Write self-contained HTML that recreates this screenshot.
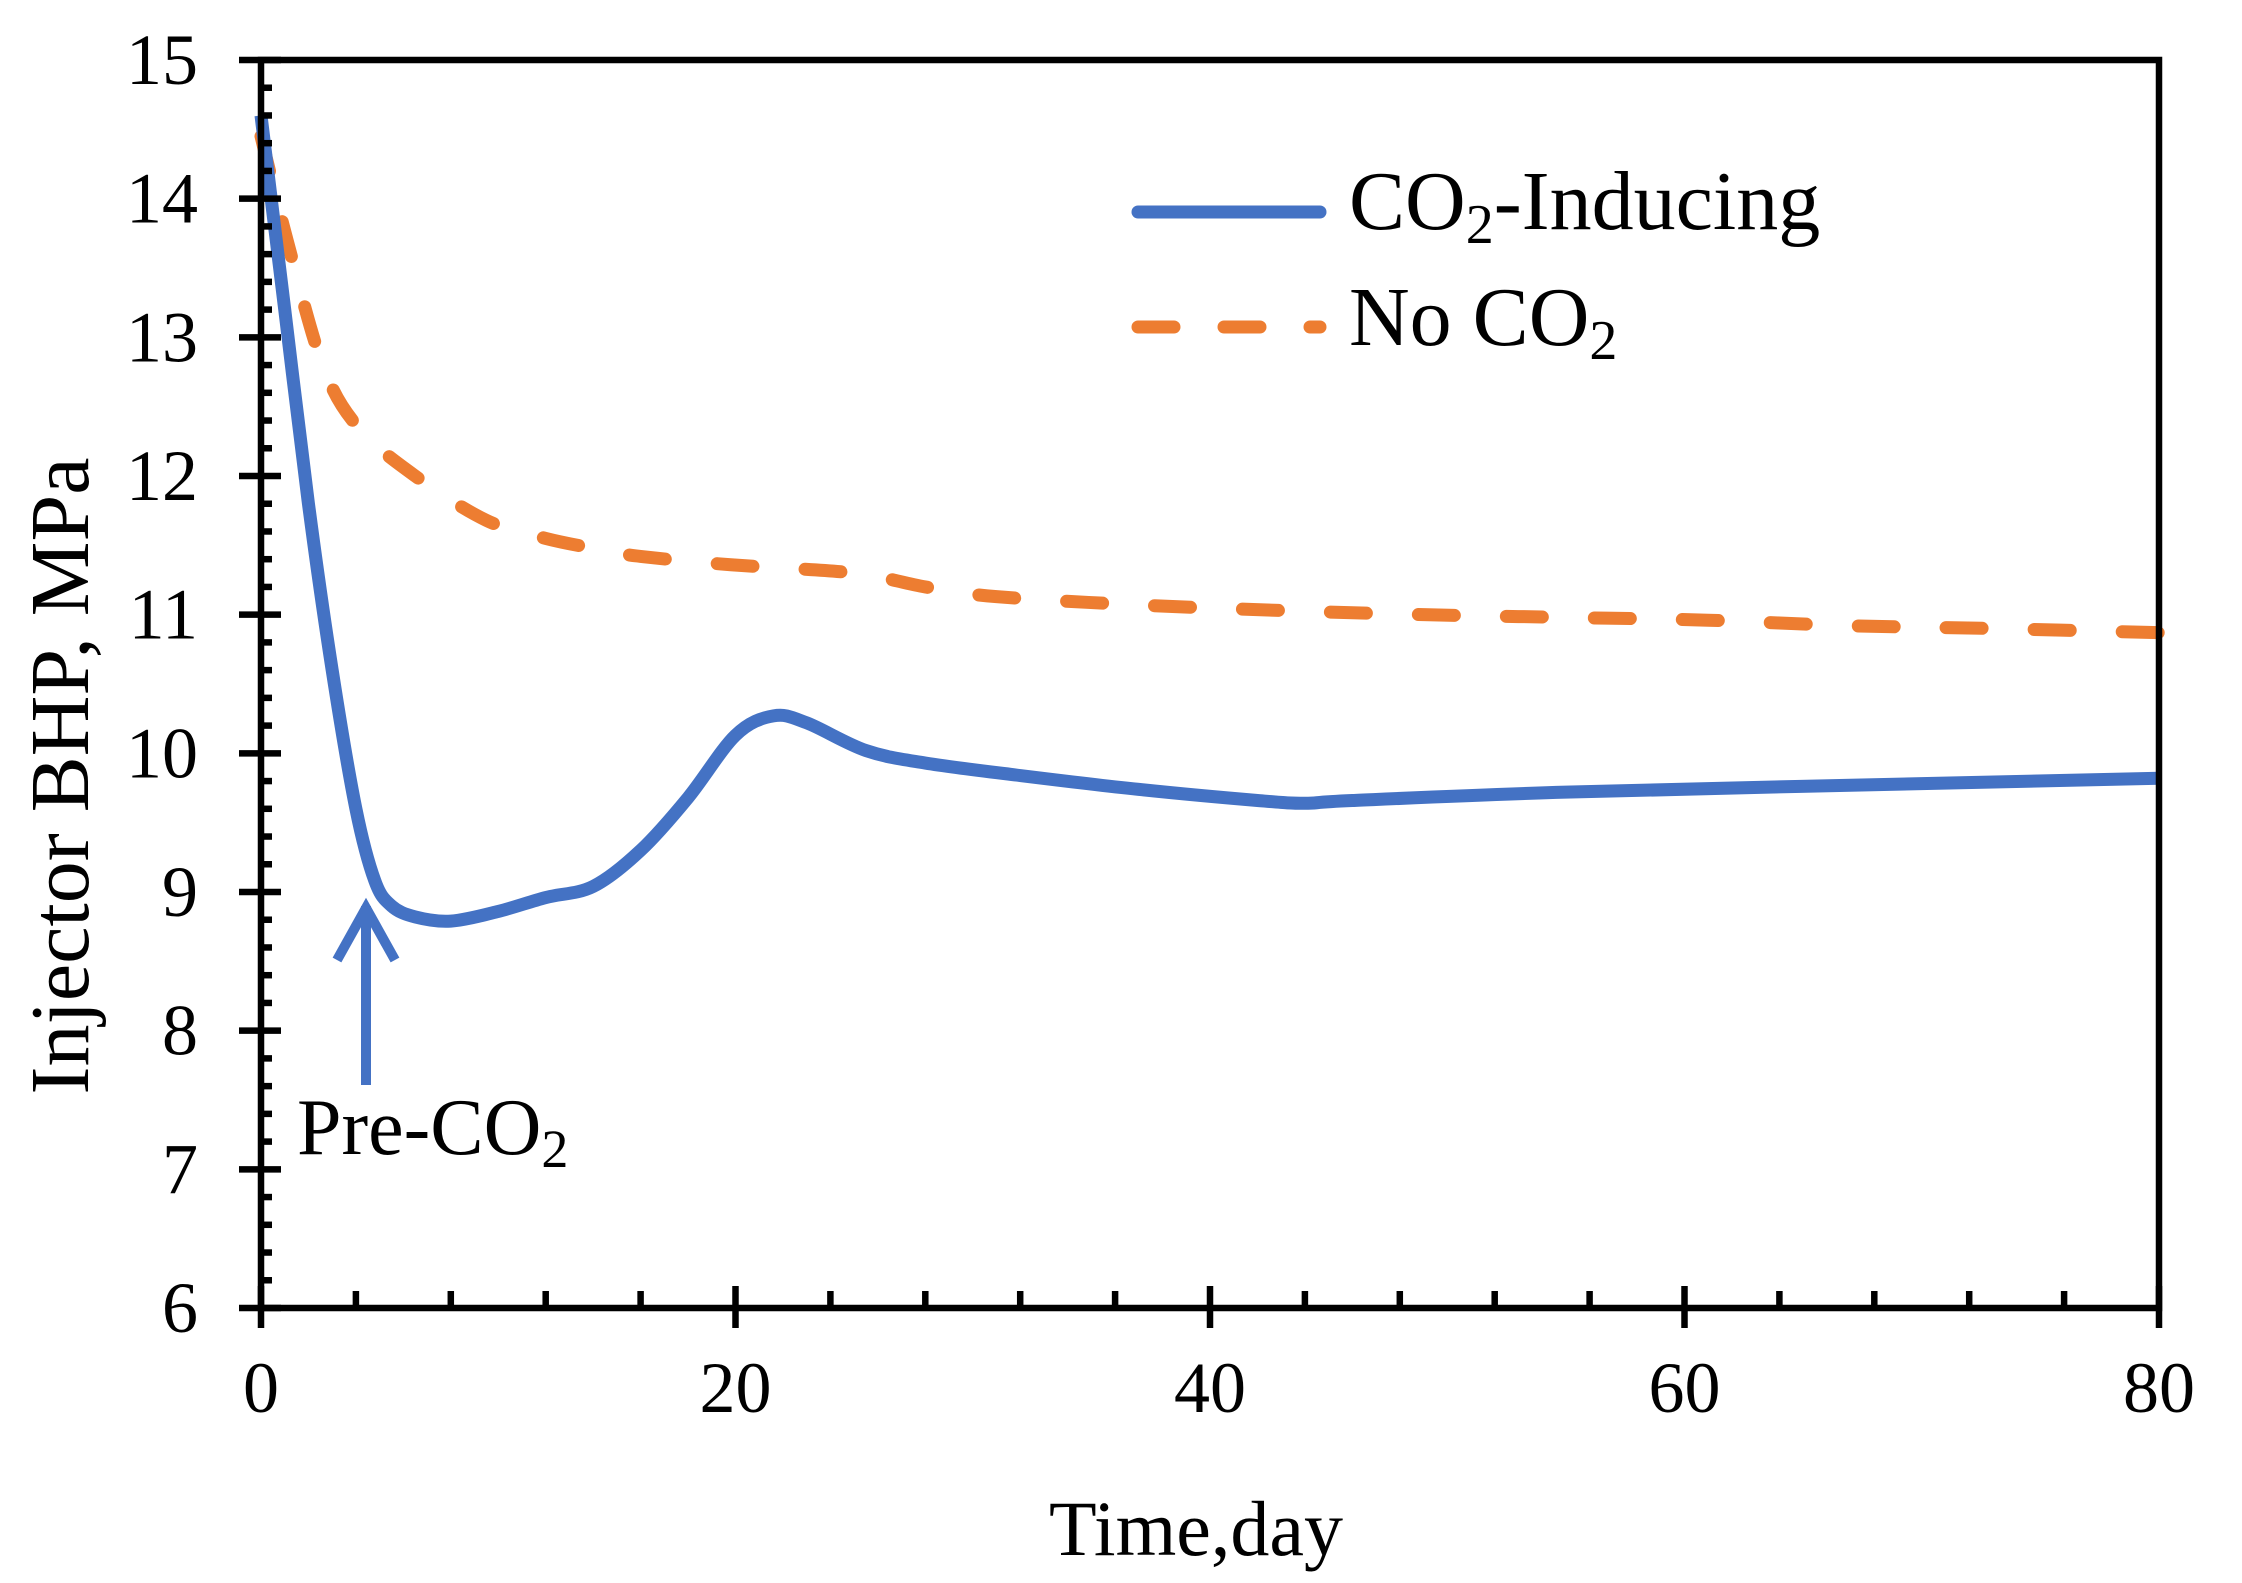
<!DOCTYPE html>
<html><head><meta charset="utf-8"><style>
html,body{margin:0;padding:0;background:#fff;}
svg{display:block;font-family:"Liberation Serif","Times New Roman",serif;}
</style></head><body>
<svg id="chart" width="2242" height="1583" viewBox="0 0 2242 1583" xmlns="http://www.w3.org/2000/svg">
<g id="grid"></g>
<g id="series"></g>
<g id="axes"></g>
<g>
  <line x1="1138" y1="212" x2="1320" y2="212" stroke="#4472C4" stroke-width="13" stroke-linecap="round"/>
  <text x="1349" y="229" font-size="84">CO<tspan font-size="56" dy="14">2</tspan><tspan dy="-14">-Inducing</tspan></text>
  <line x1="1138" y1="327" x2="1320" y2="327" stroke="#ED7D31" stroke-width="13" stroke-linecap="round" stroke-dasharray="36 50"/>
  <text x="1349" y="345" font-size="84">No CO<tspan font-size="56" dy="14">2</tspan></text>
</g>
<g>
  <line x1="366" y1="1085" x2="366" y2="906" stroke="#4472C4" stroke-width="10"/>
  <polyline points="337,960 366,908 395,960" fill="none" stroke="#4472C4" stroke-width="10"/>
  <text x="297" y="1154" font-size="80">Pre-CO<tspan font-size="54" dy="13">2</tspan></text>
</g>
<text x="1196" y="1555" font-size="78" text-anchor="middle">Time,day</text>
<text transform="translate(88,776) rotate(-90)" font-size="84" text-anchor="middle">Injector BHP, MPa</text>
</svg>
<script>
const xTicks=[0,20,40,60,80];
const yTicks=[6,7,8,9,10,11,12,13,14,15];
const blueDays=[0,1,2,3,4,4.8,5.5,6.5,8,10,12,14,16,18,20,21.6,23,25.5,28,32,37,42,44,46,55,67,80];
const blueVals=[14.6,13.2,11.8,10.6,9.6,9.08,8.9,8.82,8.79,8.86,8.96,9.04,9.3,9.68,10.13,10.27,10.22,10.02,9.93,9.84,9.74,9.66,9.64,9.66,9.72,9.77,9.82];
const orangeDays=[0,1.1,2.6,4.1,6.5,9.5,12,14.3,16,19.8,25,28,31,37,43,49,55,61,67,73,80];
const orangeVals=[14.45,13.7,12.8,12.35,12.0,11.68,11.55,11.47,11.42,11.36,11.3,11.2,11.13,11.07,11.03,11.0,10.98,10.96,10.92,10.9,10.87];

const X0=261,X1=2159,Y0=1308,Y1=60;
const xs=d=>X0+(d-0)/(80-0)*(X1-X0);
const ys=v=>Y0-(v-6)/(15-6)*(Y0-Y1);
const NS="http://www.w3.org/2000/svg";
function mk(tag,attrs,parent){const e=document.createElementNS(NS,tag);for(const k in attrs)e.setAttribute(k,attrs[k]);parent.appendChild(e);return e;}
function smooth(px){let d=`M${px[0][0]},${px[0][1]}`;for(let i=0;i<px.length-1;i++){const p0=px[i-1]||px[i],p1=px[i],p2=px[i+1],p3=px[i+2]||p2;
 d+=` C${p1[0]+(p2[0]-p0[0])/6},${p1[1]+(p2[1]-p0[1])/6} ${p2[0]-(p3[0]-p1[0])/6},${p2[1]-(p3[1]-p1[1])/6} ${p2[0]},${p2[1]}`;}return d;}
const series=document.getElementById('series');
const op=mk('path',{d:smooth(orangeDays.map((d,i)=>[xs(d),ys(orangeVals[i])])),fill:'none',stroke:'#ED7D31','stroke-width':13,'stroke-linecap':'round','stroke-dasharray':'36 52'},series);


const bp=mk('path',{d:smooth(blueDays.map((d,i)=>[xs(d),ys(blueVals[i])])),fill:'none',stroke:'#4472C4','stroke-width':13,'stroke-linejoin':'round'},series);



const axes=document.getElementById('axes');
const frame=mk('rect',{x:X0,y:Y1,width:X1-X0,height:Y0-Y1,fill:'none',stroke:'#000','stroke-width':6.5},axes);


for(let v=6;v<=15.001;v+=0.2){const y=ys(v);const major=Math.abs(v-Math.round(v))<0.01;
 const t=mk('line',{x1:major?X0-22:X0,x2:major?X0+20:X0+11,y1:y,y2:y,stroke:'#000','stroke-width':6.5},axes);
 
 }
yTicks.forEach(v=>{const t=mk('text',{x:X0-63,y:ys(v)+24,'font-size':72,'text-anchor':'end'},axes);t.textContent=v;
 
 });
for(let d=0;d<=80;d+=4){const x=xs(d);const major=d%20===0;
 const t=mk('line',{x1:x,x2:x,y1:major?Y0-22:Y0-17,y2:major?Y0+20:Y0,stroke:'#000','stroke-width':6.5},axes);
 
 }
xTicks.forEach(d=>{const t=mk('text',{x:xs(d),y:1412,'font-size':72,'text-anchor':'middle'},axes);t.textContent=d;
 
 });
</script>
</body></html>
